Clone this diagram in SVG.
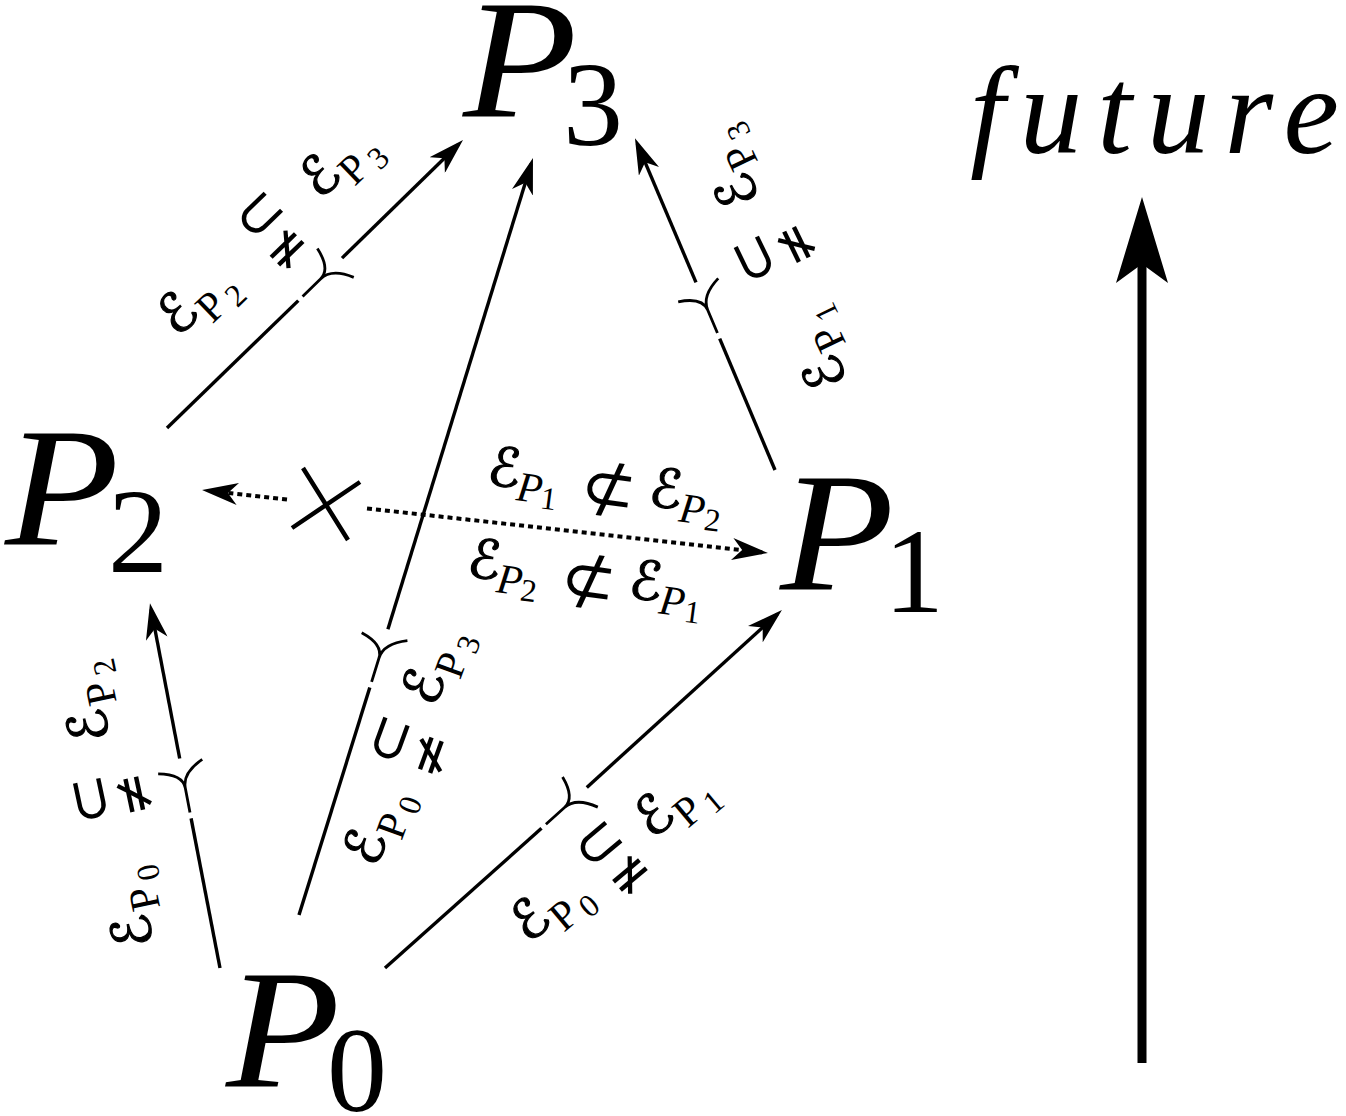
<svg xmlns="http://www.w3.org/2000/svg" width="1346" height="1116" viewBox="0 0 1346 1116">
<defs>
<marker id="ah" viewBox="0 0 36 22" refX="30" refY="11" markerWidth="36" markerHeight="22" markerUnits="userSpaceOnUse" orient="auto">
<path d="M36,11 L0,0 L10,11 L0,22 Z" fill="#000"/>
</marker>
<path id="yk" d="M-25,0 L0,0 C10,0 16,-9 19,-24 M0,0 C10,0 18,6 25,22"/>
</defs>
<rect width="1346" height="1116" fill="#fff"/>

<g id="connectors" fill="none" stroke="#000">
<g stroke-width="3.4">
<path d="M167,428 L298.3,300.6"/>
<path d="M342,258.1 L458.7,144.2" marker-end="url(#ah)"/>
<path d="M775,470 L719.7,338.6"/>
<path d="M696,282.4 L637.3,143.8" marker-end="url(#ah)"/>
<path d="M220,968 L191.1,818.4"/>
<path d="M179.7,758.5 L151.1,609.2" marker-end="url(#ah)"/>
<path d="M299,915 L369.8,687.6"/>
<path d="M387.9,629.3 L531.2,163.7" marker-end="url(#ah)"/>
<path d="M385,968 L541.5,828.3"/>
<path d="M586.8,787.4 L777.5,614" marker-end="url(#ah)"/>
</g>
<g stroke-width="2.8">
<use href="#yk" transform="translate(320.5,279) rotate(-44.2)"/>
<use href="#yk" transform="translate(707.7,310) rotate(-112.9)"/>
<use href="#yk" transform="translate(185.3,788) rotate(-100.8)"/>
<use href="#yk" transform="translate(379,658) rotate(-72.8)"/>
<use href="#yk" transform="translate(564.5,807.5) rotate(-42)"/>
</g>
<g stroke-width="4" stroke-dasharray="5 4">
<path d="M287,499.5 L208,490.7" marker-end="url(#ah)"/>
<path d="M367,508.4 L762,552.3" marker-end="url(#ah)"/>
</g>
<path stroke-width="4.5" d="M303,468 L348,540 M292,528 L360,482"/>
<path d="M1142,1063 L1142,262" stroke-width="9"/>
<path d="M1142,197 L1168,283 L1142,264 L1116,283 Z" fill="#000" stroke="none"/>
</g>

<g id="P3"><text font-family="Liberation Serif" font-style="italic" font-size="170" transform="translate(463,117) scale(1.1,1)">P</text><text font-family="Liberation Serif" font-size="120" x="563" y="145">3</text></g>
<g id="P2"><text font-family="Liberation Serif" font-style="italic" font-size="170" transform="translate(5,545) scale(1.1,1)">P</text><text font-family="Liberation Serif" font-size="120" x="108" y="572">2</text></g>
<g id="P1"><text font-family="Liberation Serif" font-style="italic" font-size="170" transform="translate(780,590) scale(1.1,1)">P</text><text font-family="Liberation Serif" font-size="120" x="884" y="612">1</text></g>
<g id="P0"><text font-family="Liberation Serif" font-style="italic" font-size="170" transform="translate(226,1087) scale(1.1,1)">P</text><text font-family="Liberation Serif" font-size="120" x="327" y="1111">0</text></g>
<g id="future"><text font-family="Liberation Serif" font-style="italic" font-size="125" letter-spacing="15" x="970" y="153">future</text></g>

<g id="label-P2-P3" transform="translate(178,338) rotate(-44)">
<text font-family="DejaVu Sans" font-size="54" stroke="#000" stroke-width="1.2" x="0" y="0">ℰ</text><text font-family="Liberation Serif" font-size="42" x="34" y="14">P</text><text font-family="Liberation Serif" font-size="32" x="63" y="20">2</text>
<text font-family="DejaVu Sans" font-size="60" text-anchor="middle" x="144" y="-13">⊂</text><text font-family="DejaVu Sans" font-size="54" text-anchor="middle" x="140" y="29">≠</text>
<text font-family="DejaVu Sans" font-size="54" stroke="#000" stroke-width="1.2" x="198" y="0">ℰ</text><text font-family="Liberation Serif" font-size="42" x="232" y="14">P</text><text font-family="Liberation Serif" font-size="32" x="261" y="20">3</text>
</g>
<g id="label-P1-P3" transform="translate(848.6,380.2) rotate(-115.8)">
<text font-family="DejaVu Sans" font-size="54" stroke="#000" stroke-width="1.2" x="0" y="0">ℰ</text><text font-family="Liberation Serif" font-size="42" x="34" y="14">P</text><text font-family="Liberation Serif" font-size="32" x="63" y="20">1</text>
<text font-family="DejaVu Sans" font-size="60" text-anchor="middle" x="150" y="-13">⊂</text><text font-family="DejaVu Sans" font-size="54" text-anchor="middle" x="145" y="29">≠</text>
<text font-family="DejaVu Sans" font-size="54" stroke="#000" stroke-width="1.2" x="202" y="0">ℰ</text><text font-family="Liberation Serif" font-size="42" x="236" y="14">P</text><text font-family="Liberation Serif" font-size="32" x="265" y="20">3</text>
</g>
<g id="label-P0-P2" transform="translate(153.7,943.7) rotate(-102)">
<text font-family="DejaVu Sans" font-size="54" stroke="#000" stroke-width="1.2" x="0" y="0">ℰ</text><text font-family="Liberation Serif" font-size="42" x="34" y="14">P</text><text font-family="Liberation Serif" font-size="32" x="63" y="20">0</text>
<text font-family="DejaVu Sans" font-size="60" text-anchor="middle" x="154" y="-13">⊂</text><text font-family="DejaVu Sans" font-size="54" text-anchor="middle" x="150" y="29">≠</text>
<text font-family="DejaVu Sans" font-size="54" stroke="#000" stroke-width="1.2" x="210" y="0">ℰ</text><text font-family="Liberation Serif" font-size="42" x="244" y="14">P</text><text font-family="Liberation Serif" font-size="32" x="273" y="20">2</text>
</g>
<g id="label-P0-P3" transform="translate(376.8,868.6) rotate(-70)">
<text font-family="DejaVu Sans" font-size="54" stroke="#000" stroke-width="1.2" x="0" y="0">ℰ</text><text font-family="Liberation Serif" font-size="42" x="34" y="14">P</text><text font-family="Liberation Serif" font-size="32" x="63" y="20">0</text>
<text font-family="DejaVu Sans" font-size="60" text-anchor="middle" x="126" y="-13">⊂</text><text font-family="DejaVu Sans" font-size="54" text-anchor="middle" x="125" y="29">≠</text>
<text font-family="DejaVu Sans" font-size="54" stroke="#000" stroke-width="1.2" x="171" y="0">ℰ</text><text font-family="Liberation Serif" font-size="42" x="205" y="14">P</text><text font-family="Liberation Serif" font-size="32" x="234" y="20">3</text>
</g>
<g id="label-P0-P1" transform="translate(528.7,944.2) rotate(-40)">
<text font-family="DejaVu Sans" font-size="54" stroke="#000" stroke-width="1.2" x="0" y="0">ℰ</text><text font-family="Liberation Serif" font-size="42" x="34" y="14">P</text><text font-family="Liberation Serif" font-size="32" x="63" y="20">0</text>
<text font-family="DejaVu Sans" font-size="60" text-anchor="middle" x="118" y="-13">⊂</text><text font-family="DejaVu Sans" font-size="54" text-anchor="middle" x="122" y="29">≠</text>
<text font-family="DejaVu Sans" font-size="54" stroke="#000" stroke-width="1.2" x="162" y="0">ℰ</text><text font-family="Liberation Serif" font-size="42" x="196" y="14">P</text><text font-family="Liberation Serif" font-size="32" x="225" y="20">1</text>
</g>
<g id="label-P1-P2" transform="translate(486,484) rotate(7.5)">
<text font-family="DejaVu Sans" font-size="54" stroke="#000" stroke-width="1.2" x="0" y="0">ℰ</text><text font-family="Liberation Serif" font-style="italic" font-size="42" x="31" y="12">P</text><text font-family="Liberation Serif" font-size="32" x="56" y="17">1</text>
<text font-family="DejaVu Sans" font-size="66" text-anchor="middle" x="122" y="10">⊄</text>
<text font-family="DejaVu Sans" font-size="54" stroke="#000" stroke-width="1.2" x="163" y="0">ℰ</text><text font-family="Liberation Serif" font-style="italic" font-size="42" x="195" y="12">P</text><text font-family="Liberation Serif" font-size="32" x="221" y="17">2</text>
</g>
<g id="label-P2-P1" transform="translate(466,576) rotate(7.5)">
<text font-family="DejaVu Sans" font-size="54" stroke="#000" stroke-width="1.2" x="0" y="0">ℰ</text><text font-family="Liberation Serif" font-style="italic" font-size="42" x="31" y="12">P</text><text font-family="Liberation Serif" font-size="32" x="56" y="17">2</text>
<text font-family="DejaVu Sans" font-size="66" text-anchor="middle" x="122" y="10">⊄</text>
<text font-family="DejaVu Sans" font-size="54" stroke="#000" stroke-width="1.2" x="163" y="0">ℰ</text><text font-family="Liberation Serif" font-style="italic" font-size="42" x="195" y="12">P</text><text font-family="Liberation Serif" font-size="32" x="221" y="17">1</text>
</g>
</svg>
